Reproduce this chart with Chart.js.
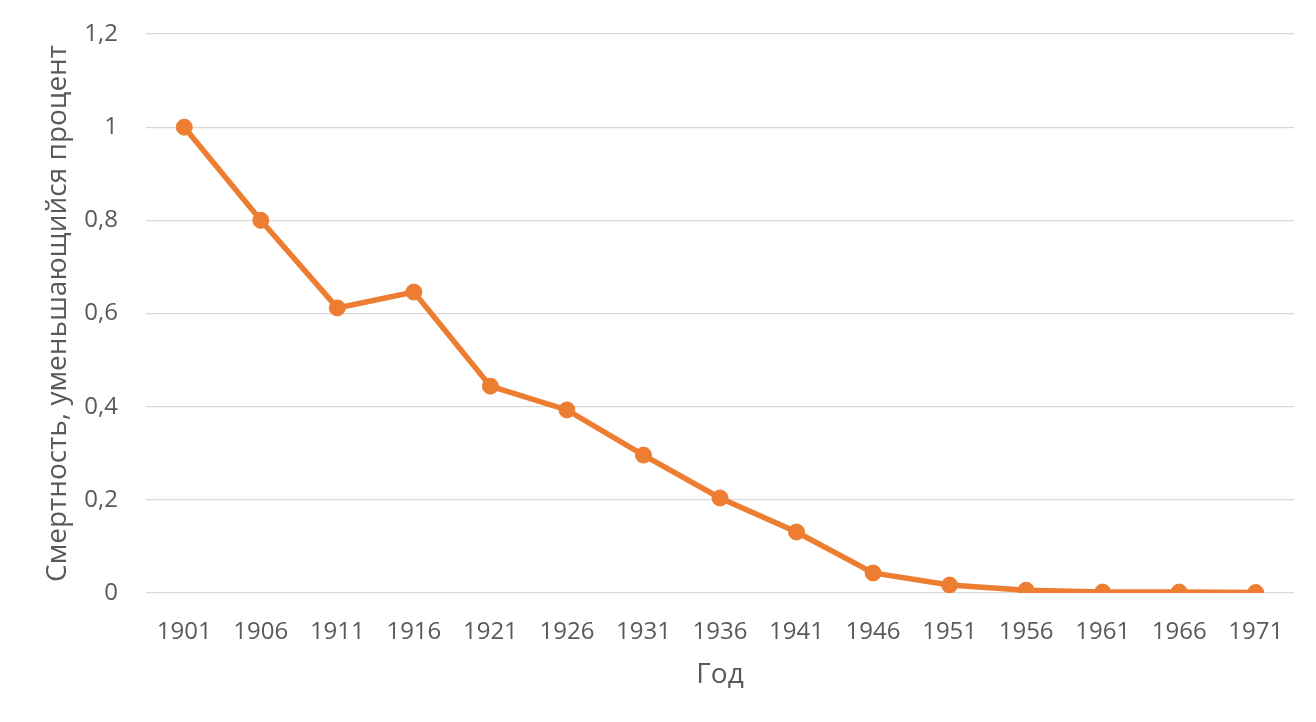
<!DOCTYPE html>
<html>
<head>
<meta charset="utf-8">
<script src="https://cdn.jsdelivr.net/npm/chart.js@4"></script>
<style>
  html, body { margin: 0; padding: 0; background: #fff; }
  #wrap { width: 1316px; height: 722px; }
</style>
</head>
<body>
<div id="wrap"><canvas id="chart" width="1316" height="722"></canvas></div>
<script>
// -----------------------------
// Data
// -----------------------------
const years = ["1901", "1906", "1911", "1916", "1921", "1926", "1931", "1936",
  "1941", "1946", "1951", "1956", "1961", "1966", "1971"];
const mortality = [1.0, 0.8, 0.612, 0.646, 0.444, 0.393, 0.296, 0.204,
  0.131, 0.043, 0.017, 0.006, 0.002, 0.002, 0.001];
const yTicks = [0, 0.2, 0.4, 0.6, 0.8, 1, 1.2];

const textColor = "#595959";
const fontFamily = "'Open Sans', 'Liberation Sans', sans-serif";

// -----------------------------
// Chart
// -----------------------------
document.addEventListener("DOMContentLoaded", () => {
  const ctx = document.getElementById("chart");

  new Chart(ctx, {
    type: "line",
    data: {
      labels: years,
      datasets: [{
        data: mortality,
        borderColor: "#ED7D31",
        backgroundColor: "#ED7D31",
        borderWidth: 5.5,
        pointRadius: 8,
        pointHoverRadius: 8,
        pointBorderWidth: 1,
        tension: 0
      }]
    },
    options: {
      responsive: false,
      animation: false,
      layout: { padding: { left: 44, right: 22, top: 0, bottom: 33 } },
      plugins: {
        legend: { display: false },
        tooltip: { enabled: false }
      },
      scales: {
        x: {
          offset: true,
          grid: { display: false, drawTicks: false },
          border: { display: false },
          afterFit: axis => { axis.height = 96; },
          ticks: {
            color: textColor,
            font: { family: fontFamily, size: 24 },
            padding: 25,
            maxRotation: 0
          },
          title: {
            display: true,
            text: "Год",
            color: textColor,
            font: { family: fontFamily, size: 28, lineHeight: 1 },
            padding: { top: 0, bottom: 0 }
          }
        },
        y: {
          min: 0,
          max: 1.2,
          afterBuildTicks: axis => {
            axis.ticks = yTicks.map(v => ({ value: v }));
          },
          afterFit: axis => {
            axis.width = 102;
            axis.paddingTop = 34;
          },
          grid: { color: "#d9d9d9", lineWidth: 1.3, drawTicks: false },
          border: { display: false },
          ticks: {
            color: textColor,
            font: { family: fontFamily, size: 24 },
            padding: 28,
            callback: v => String(Math.round(v * 10) / 10).replace(".", ",")
          },
          title: {
            display: true,
            text: "Смертность, уменьшающийся процент",
            color: textColor,
            font: { family: fontFamily, size: 28, lineHeight: 1 },
            padding: { top: 0, bottom: 0 }
          }
        }
      }
    }
  });
});
</script>
</body>
</html>
